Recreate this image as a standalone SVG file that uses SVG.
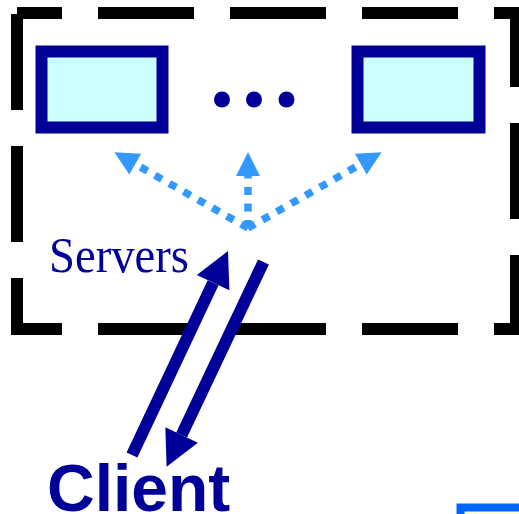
<svg xmlns="http://www.w3.org/2000/svg" width="519" height="514" viewBox="0 0 519 514">
<style>
.frame{fill:none;stroke:#000;stroke-width:12;stroke-dasharray:96 36;stroke-dashoffset:51}
.srv{fill:#CCFFFF;stroke:#000099;stroke-width:12}
.dot{fill:#000099}
.dotted{fill:none;stroke:#3399FF;stroke-width:7.5;stroke-dasharray:8 8.5}
.solid{fill:none;stroke:#000099;stroke-width:12}
.lbl-s{font-family:"Liberation Serif","Times New Roman",serif;font-size:50px;fill:#000099}
.lbl-c{font-family:"Liberation Sans",Arial,sans-serif;font-size:66px;font-weight:bold;fill:#000099}
</style>
<defs>
<marker id="hl" markerUnits="userSpaceOnUse" markerWidth="24" markerHeight="24" refX="0" refY="12" orient="auto" overflow="visible">
<path d="M0,0 L24,12 L0,24 Z" fill="#3399FF"/>
</marker>
<marker id="hd" markerUnits="userSpaceOnUse" markerWidth="35" markerHeight="36" refX="0" refY="18" orient="auto" overflow="visible">
<path d="M0,0 L35,18 L0,36 Z" fill="#000099"/>
</marker>
</defs>
<g id="servers-frame">
<rect class="frame" x="17" y="13" width="499" height="316"/>
</g>
<g id="server-1"><rect class="srv" x="41.5" y="51.5" width="121" height="76"/></g>
<g id="server-n"><rect class="srv" x="357.5" y="51.5" width="122" height="76"/></g>
<g id="ellipsis">
<circle class="dot" cx="222" cy="99.5" r="8"/>
<circle class="dot" cx="254" cy="99.5" r="8"/>
<circle class="dot" cx="286.5" cy="99.5" r="8"/>
</g>
<g id="servers-label"><text class="lbl-s" x="49" y="272" textLength="140" lengthAdjust="spacingAndGlyphs">Servers</text></g>
<g id="client"><text class="lbl-c" x="47" y="511">Client</text></g>
<g id="connectors">
<line class="dotted" x1="248" y1="228" x2="135.2" y2="164.1" marker-end="url(#hl)"/>
<line class="dotted" x1="248" y1="228" x2="248" y2="176" marker-end="url(#hl)"/>
<line class="dotted" x1="248" y1="228" x2="360.8" y2="164.1" marker-end="url(#hl)"/>
<line class="solid" x1="132" y1="455" x2="213.1" y2="282.7" marker-end="url(#hd)"/>
<line class="solid" x1="263.5" y1="262" x2="181.6" y2="435" marker-end="url(#hd)"/>
</g>
<g id="corner-box"><rect x="460.5" y="507.5" width="100" height="50" fill="#FFFFCC" stroke="#0066FF" stroke-width="8"/></g>
</svg>
